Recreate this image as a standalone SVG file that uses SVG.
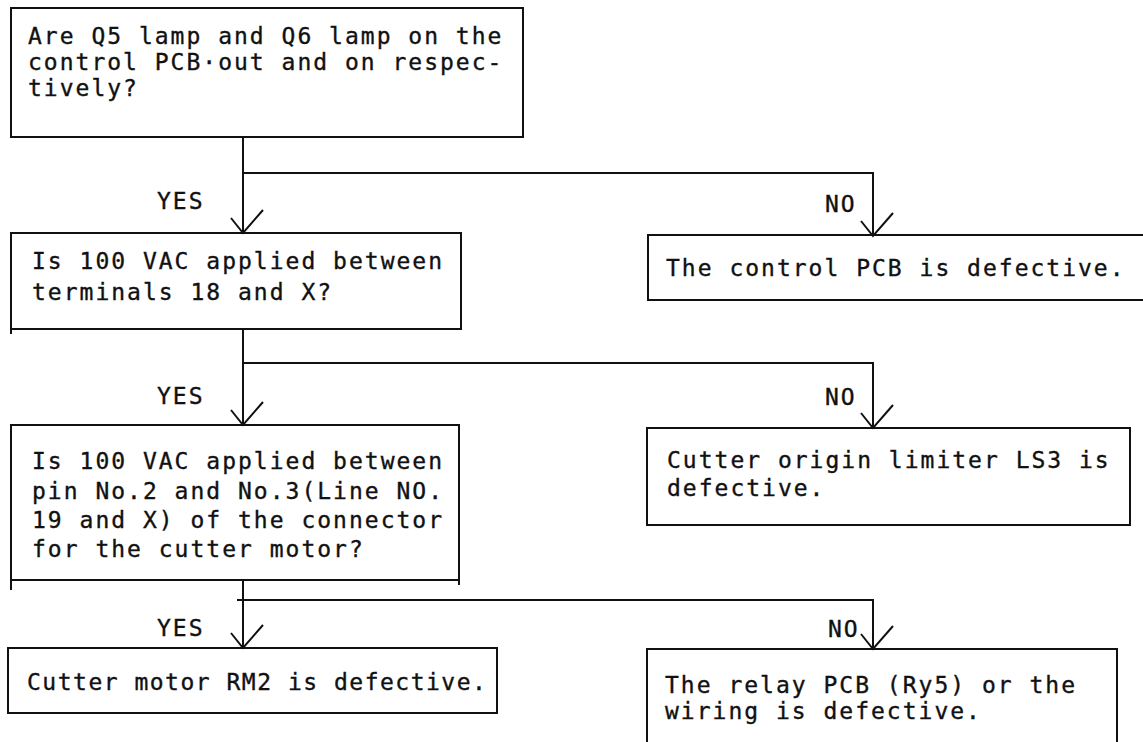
<svg xmlns="http://www.w3.org/2000/svg" width="1143" height="742" viewBox="0 0 1143 742">
<style>
.bx{fill:none;stroke:#111;stroke-width:2}
.ln{fill:none;stroke:#111;stroke-width:2}
text{font-family:"DejaVu Sans Mono","Liberation Mono",monospace;font-size:23px;letter-spacing:2px;fill:#111;stroke:#111;stroke-width:0.35}
.tight{letter-spacing:1.5px}
</style>
<defs>
<path id="arr" d="M-12,-15 L0,0 L20,-23" fill="none" stroke="#111" stroke-width="2"/>
</defs>
<rect width="1143" height="742" fill="#fff"/>
<g id="q1">
<rect class="bx" x="11" y="8" width="512" height="129"/>
<text x="28" y="44">Are Q5 lamp and Q6 lamp on the</text>
<text x="28" y="70">control PCB·out and on respec-</text>
<text x="28" y="96">tively?</text>
</g>
<g id="q2">
<rect class="bx" x="11" y="233" width="450" height="96"/>
<path class="bx" d="M11,329 V334"/>
<text x="32" y="269">Is 100 VAC applied between</text>
<text x="32" y="300">terminals 18 and X?</text>
</g>
<g id="q3">
<rect class="bx" x="11" y="425" width="448" height="155"/>
<path class="bx" d="M11,580 V590 M459,580 V585"/>
<text x="32" y="469">Is 100 VAC applied between</text>
<text x="32" y="499">pin No.2 and No.3(Line NO.</text>
<text x="32" y="528">19 and X) of the connector</text>
<text x="32" y="557">for the cutter motor?</text>
</g>
<g id="r1">
<path class="bx" d="M1143,235 H648 V300 H1143"/>
<text x="666" y="276">The control PCB is defective.</text>
</g>
<g id="r2">
<rect class="bx" x="647" y="428" width="483" height="97"/>
<text x="667" y="468">Cutter origin limiter LS3 is</text>
<text x="667" y="496">defective.</text>
</g>
<g id="r3">
<rect class="bx" x="8" y="648" width="489" height="65"/>
<text class="tight" x="27" y="690">Cutter motor RM2 is defective.</text>
</g>
<g id="r4">
<path class="bx" d="M647,742 V649 H1117 V742"/>
<text x="665" y="693">The relay PCB (Ry5) or the</text>
<text x="665" y="719">wiring is defective.</text>
</g>
<g id="connectors">
<path class="ln" d="M243,137 V233 M243,173 H873 V236"/>
<path class="ln" d="M243,329 V425 M243,363 H873 V428"/>
<path class="ln" d="M243,580 V648 M237,600 H873 V649"/>
<use href="#arr" x="243" y="233"/>
<use href="#arr" x="873" y="236"/>
<use href="#arr" x="243" y="425"/>
<use href="#arr" x="873" y="428"/>
<use href="#arr" x="243" y="648"/>
<use href="#arr" x="873" y="649"/>
<text x="157" y="209">YES</text>
<text x="825" y="212">NO</text>
<text x="157" y="404">YES</text>
<text x="825" y="405">NO</text>
<text x="157" y="636">YES</text>
<text x="828" y="637">NO</text>
</g>
</svg>
